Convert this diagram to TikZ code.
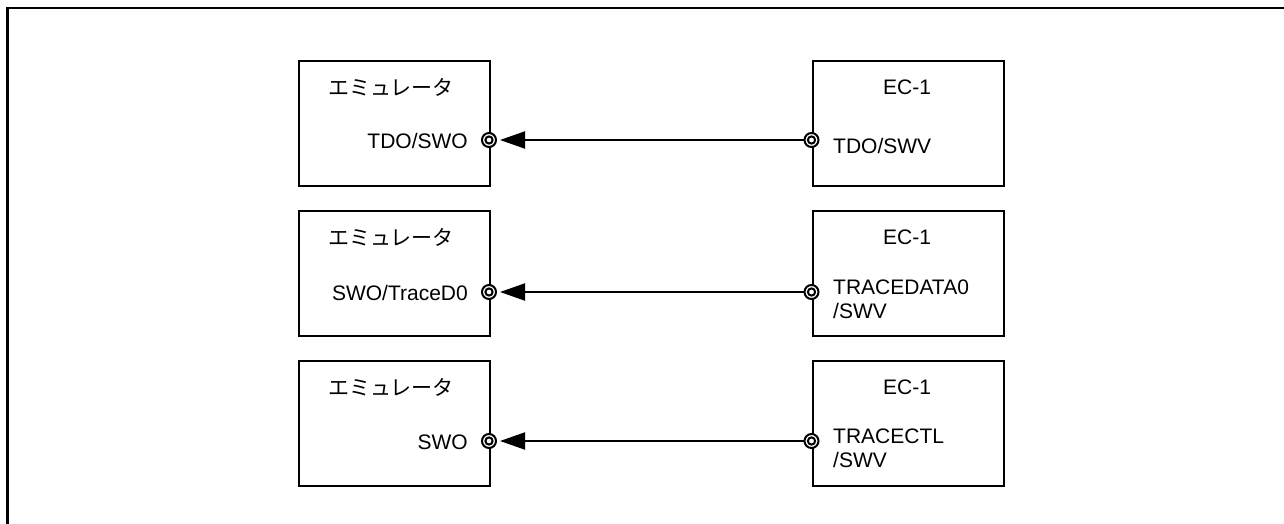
\documentclass[tikz,border=0pt]{standalone}
\usepackage{fontspec}
\setmainfont{Liberation Sans}
\newfontfamily\jpfont{Noto Sans CJK JP}
\usetikzlibrary{arrows.meta}
\tikzset{
  blk/.style={draw, line width=2pt, rectangle, minimum width=191.5pt, minimum height=125pt, inner sep=0pt, anchor=north west},
  port/.style={draw, fill=white, circle, line width=2pt, minimum size=14pt, inner sep=0pt,
    path picture={\draw[line width=2pt] (path picture bounding box.center) circle (3.6pt);}},
  lbl/.style={font=\fontsize{21}{24}\selectfont, inner sep=0pt},
  sig/.style={line width=2pt, -{Triangle[length=25pt,width=17pt]}, shorten >=3pt},
}
\begin{document}
\begin{tikzpicture}[x=1pt, y=-1pt]
\useasboundingbox (0,0) rectangle (1284,524);
% outer frame (top and left edges)
\draw[line width=2.5pt] (7.5,530) -- (7.5,8) -- (1290,8);

% row 1
\node[blk] (emu1) at (297.5,60) {};
\node[blk] (ec1) at (811.5,60) {};
\node[lbl] (emut1) at (391,87) {\jpfont エミュレータ};
\node[lbl] (ect1) at (907,87) {EC-1};
\node[port] (lp1) at (489,140) {};
\node[port] (rp1) at (811.5,140) {};
\node[lbl, anchor=east] (lpl1) at (468,141) {TDO/SWO};
\node[lbl, anchor=west, align=left] (rpl1) at (833,146) {TDO/SWV};
\draw[sig] (rp1) -- (lp1);

% row 2
\node[blk] (emu2) at (297.5,210) {};
\node[blk] (ec2) at (811.5,210) {};
\node[lbl] (emut2) at (391,237) {\jpfont エミュレータ};
\node[lbl] (ect2) at (907,237) {EC-1};
\node[port] (lp2) at (489,292) {};
\node[port] (rp2) at (811.5,292) {};
\node[lbl, anchor=east] (lpl2) at (468,293) {SWO/TraceD0};
\node[lbl, anchor=west, align=left] (rpl2) at (833,299) {TRACEDATA0\\/SWV};
\draw[sig] (rp2) -- (lp2);

% row 3
\node[blk] (emu3) at (297.5,360) {};
\node[blk] (ec3) at (811.5,360) {};
\node[lbl] (emut3) at (391,387) {\jpfont エミュレータ};
\node[lbl] (ect3) at (907,387) {EC-1};
\node[port] (lp3) at (489,441) {};
\node[port] (rp3) at (811.5,441) {};
\node[lbl, anchor=east] (lpl3) at (468,442) {SWO};
\node[lbl, anchor=west, align=left] (rpl3) at (833,448) {TRACECTL\\/SWV};
\draw[sig] (rp3) -- (lp3);
\end{tikzpicture}
\end{document}
